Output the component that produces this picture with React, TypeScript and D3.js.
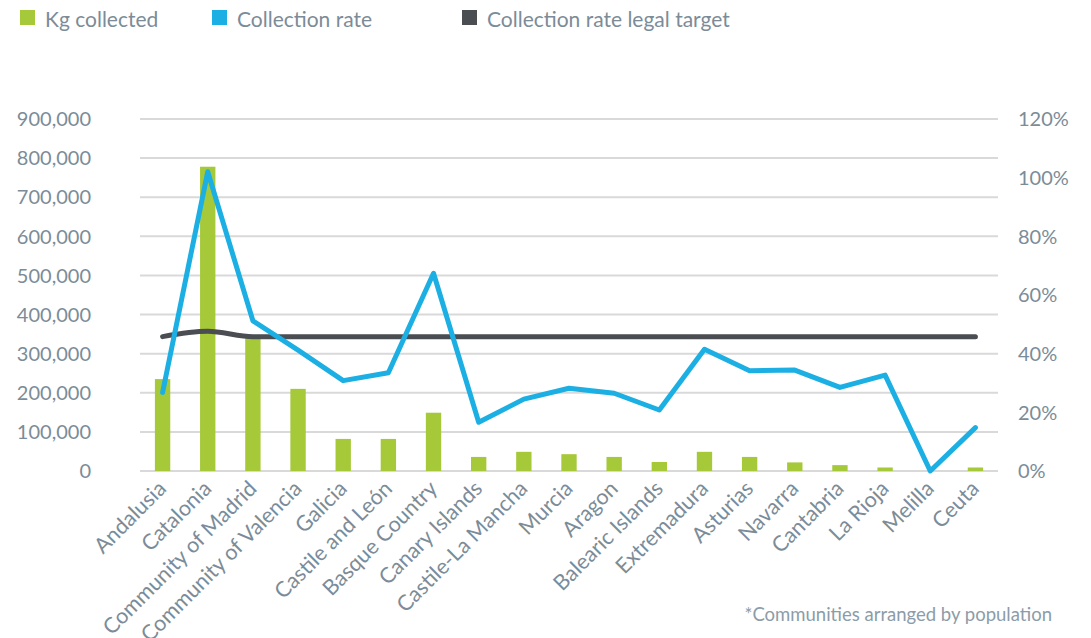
import React from 'react';
import * as d3 from 'd3';

// Communities, arranged by population
const regions = [
  'Andalusia', 'Catalonia', 'Community of Madrid', 'Community of Valencia', 'Galicia',
  'Castile and León', 'Basque Country', 'Canary Islands', 'Castile-La Mancha', 'Murcia',
  'Aragon', 'Balearic Islands', 'Extremadura', 'Asturias', 'Navarra', 'Cantabria',
  'La Rioja', 'Melilla', 'Ceuta',
];

// Kg collected per community
const kgCollected = [
  235000, 778000, 340000, 210000, 82000, 82000, 149000, 36000, 49000, 43000,
  36000, 23000, 49000, 36000, 22000, 15000, 9000, 0, 9000,
];

// Collection rate (%)
const collectionRate = [
  26.8, 102, 51.2, 41.2, 30.8, 33.5, 67.4, 16.6, 24.5, 28.2,
  26.5, 20.8, 41.5, 34.2, 34.4, 28.5, 32.7, 0, 14.8,
];

// Collection rate legal target (%)
const legalTarget = [
  45.8, 47.6, 45.8, 45.8, 45.8, 45.8, 45.8, 45.8, 45.8, 45.8,
  45.8, 45.8, 45.8, 45.8, 45.8, 45.8, 45.8, 45.8, 45.8,
];

const kgTicks = [0, 100000, 200000, 300000, 400000, 500000, 600000, 700000, 800000, 900000];
const rateTicks = [0, 20, 40, 60, 80, 100, 120];

const W = 1091;
const H = 638;
const margin = { left: 140, right: 93, top: 119, bottom: 167 };

const GREEN = '#a6c93a';
const BLUE = '#1cafe3';
const DARK = '#4a4d51';
const TEXT = '#7b8c98';
const FONT = 'Lato, "Open Sans", sans-serif';

const App: React.FC = () => {
  const x = d3.scaleBand<string>()
    .domain(regions)
    .range([margin.left, W - margin.right])
    .paddingInner(0.66)
    .paddingOuter(0.33);

  const yKg = d3.scaleLinear().domain([0, 900000]).range([H - margin.bottom, margin.top]);
  const yRate = d3.scaleLinear().domain([0, 120]).range([H - margin.bottom, margin.top]);

  const cx = (i: number) => (x(regions[i]) || 0) + x.bandwidth() / 2;

  const rateLine = d3.line<number>()
    .x((_, i) => cx(i))
    .y(d => yRate(d));

  const targetLine = d3.line<number>()
    .x((_, i) => cx(i))
    .y(d => yRate(d))
    .curve(d3.curveMonotoneX);

  const fmt = d3.format(',');

  const legend = [
    { label: 'Kg collected', color: GREEN, x: 20 },
    { label: 'Collection rate', color: BLUE, x: 212 },
    { label: 'Collection rate legal target', color: DARK, x: 462 },
  ];

  return (
    <svg width={W} height={H} style={{ position: 'absolute', left: 0, top: 0, background: '#fff' }}
      fontFamily={FONT}>
      {/* legend */}
      {legend.map(l => (
        <g key={l.label}>
          <rect x={l.x} y={10} width={15} height={15} fill={l.color} />
          <text x={l.x + 25} y={20} dy="0.35em" fontSize={21} fill={TEXT}>{l.label}</text>
        </g>
      ))}

      {/* gridlines */}
      {kgTicks.map(t => (
        <line key={t} x1={margin.left} x2={W - margin.right} y1={yKg(t)} y2={yKg(t)}
          stroke="#d9d9d9" strokeWidth={2} />
      ))}

      {/* left axis labels */}
      {kgTicks.map(t => (
        <text key={t} x={91} y={yKg(t)} dy="0.36em" textAnchor="end"
          fontSize={20} fill={TEXT}>{fmt(t)}</text>
      ))}

      {/* right axis labels */}
      {rateTicks.map(t => (
        <text key={t} x={1018} y={yRate(t)} dy="0.36em"
          fontSize={20} fill={TEXT}>{t}%</text>
      ))}

      {/* bars */}
      {kgCollected.map((v, i) => (
        <rect key={regions[i]} x={x(regions[i])} y={yKg(v)} width={x.bandwidth()}
          height={yKg(0) - yKg(v)} fill={GREEN} />
      ))}

      {/* legal target */}
      <path d={targetLine(legalTarget) || ''} fill="none" stroke={DARK} strokeWidth={5}
        strokeLinecap="round" strokeLinejoin="round" />

      {/* collection rate */}
      <path d={rateLine(collectionRate) || ''} fill="none" stroke={BLUE} strokeWidth={5}
        strokeLinecap="round" strokeLinejoin="round" />

      {/* category labels */}
      {regions.map((r, i) => (
        <text key={r} transform={`translate(${cx(i) + 5},${490}) rotate(-45)`} textAnchor="end"
          fontSize={21.5} fill={TEXT}>{r}</text>
      ))}

      <text x={1052} y={621} textAnchor="end" fontSize={18.5} fill="#8c9ca8">
        *Communities arranged by population
      </text>
    </svg>
  );
};

export default App;
